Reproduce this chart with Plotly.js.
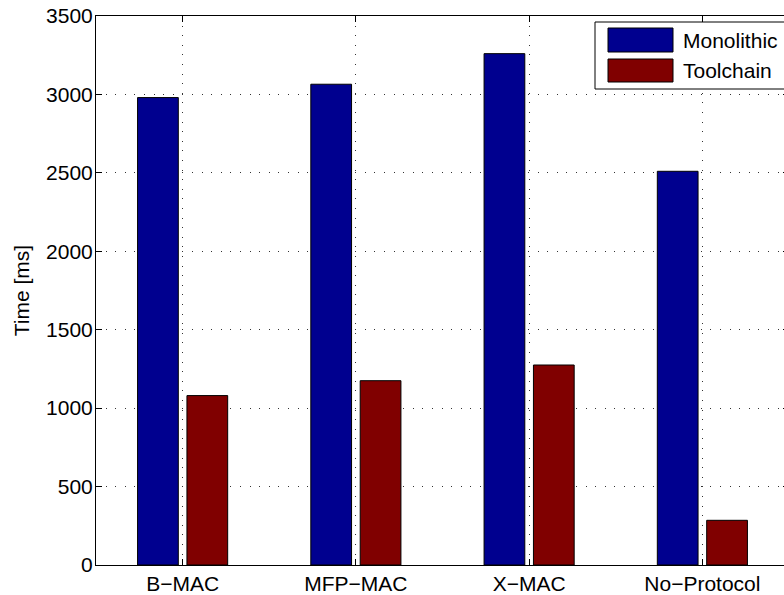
<!DOCTYPE html>
<html>
<head>
<meta charset="utf-8">
<script src="https://cdn.plot.ly/plotly-3.0.1.min.js"></script>
<style>
  html, body { margin: 0; padding: 0; overflow: hidden; background: #fff; }
  #chart { width: 800px; height: 595px; }
</style>
</head>
<body>
<div id="chart"></div>
<script>
// Run time per MAC protocol, monolithic build vs. toolchain
const categories = ['B\u2212MAC', 'MFP\u2212MAC', 'X\u2212MAC', 'No\u2212Protocol'];
const seriesNames = ['Monolithic', 'Toolchain'];
const monolithic = [2980, 3065, 3260, 2510];
const toolchain = [1080, 1175, 1275, 285];
const yTicks = [0, 500, 1000, 1500, 2000, 2500, 3000, 3500];

const colors = ['#00008F', '#800000'];
const FONT = 'Liberation Sans, Arial, Helvetica, sans-serif';
const FS = 21;

// Figure geometry (pixels)
const W = 800, H = 595;
const ML = 96, MR = 11, MT = 16, MB = 30;
const PW = W - ML - MR, PH = H - MT - MB;
const px = v => (v - ML) / PW;           // pixel x -> paper x
const py = v => (H - MB - v) / PH;       // pixel y -> paper y

const traces = [monolithic, toolchain].map((vals, i) => ({
  type: 'bar',
  x: categories,
  y: vals,
  name: seriesNames[i],
  marker: { color: colors[i], line: { color: '#000', width: 1 } },
  showlegend: false,
  hoverinfo: 'x+y+name'
}));

// Boxed legend with wide swatches
const legBox = { x0: 595, x1: 805, y0: 22, y1: 89 };
const swatches = [
  { y0: 28, y1: 52 },
  { y0: 59, y1: 82 }
];
const shapes = [{
  type: 'rect', xref: 'paper', yref: 'paper', layer: 'above',
  x0: px(legBox.x0), x1: px(legBox.x1), y0: py(legBox.y1), y1: py(legBox.y0),
  fillcolor: '#fff', line: { color: '#000', width: 1 }
}];
const annotations = [];
swatches.forEach((s, i) => {
  shapes.push({
    type: 'rect', xref: 'paper', yref: 'paper', layer: 'above',
    x0: px(608), x1: px(673), y0: py(s.y1), y1: py(s.y0),
    fillcolor: colors[i], line: { color: '#000', width: 1 }
  });
  annotations.push({
    xref: 'paper', yref: 'paper', x: px(681), y: py((s.y0 + s.y1) / 2),
    xanchor: 'left', yanchor: 'middle', showarrow: false,
    text: seriesNames[i], font: { family: FONT, size: FS, color: '#000' }
  });
});

const gridDash = '1px,8.6px';

const layout = {
  width: W, height: H,
  margin: { l: ML, r: MR, t: MT, b: MB, pad: 0 },
  paper_bgcolor: '#fff', plot_bgcolor: '#fff',
  font: { family: FONT, size: FS, color: '#000' },
  barmode: 'group',
  bargap: 0.43,
  bargroupgap: 0.175,
  showlegend: false,
  xaxis: {
    type: 'category',
    range: [-0.5, categories.length - 0.5],
    showline: true, linecolor: '#000', linewidth: 1, mirror: 'ticks',
    ticks: 'inside', ticklen: 6, tickcolor: '#000', tickwidth: 1,
    showgrid: true, gridcolor: '#333', gridwidth: 1, griddash: gridDash,
    tickfont: { family: FONT, size: FS, color: '#000' },
    ticklabelstandoff: 0,
    zeroline: false, fixedrange: true
  },
  yaxis: {
    range: [0, 3500],
    tickmode: 'array', tickvals: yTicks, ticktext: yTicks.map(String),
    showline: true, linecolor: '#000', linewidth: 1, mirror: 'ticks',
    ticks: 'inside', ticklen: 6, tickcolor: '#000', tickwidth: 1,
    showgrid: true, gridcolor: '#333', gridwidth: 1, griddash: gridDash,
    tickfont: { family: FONT, size: FS, color: '#000' },
    ticklabelstandoff: -2,
    zeroline: false, fixedrange: true,
    title: { text: 'Time [ms]', font: { family: FONT, size: FS, color: '#000' }, standoff: 10 }
  },
  shapes: shapes,
  annotations: annotations
};

Plotly.newPlot('chart', traces, layout, { displayModeBar: false, staticPlot: true });
</script>
</body>
</html>
